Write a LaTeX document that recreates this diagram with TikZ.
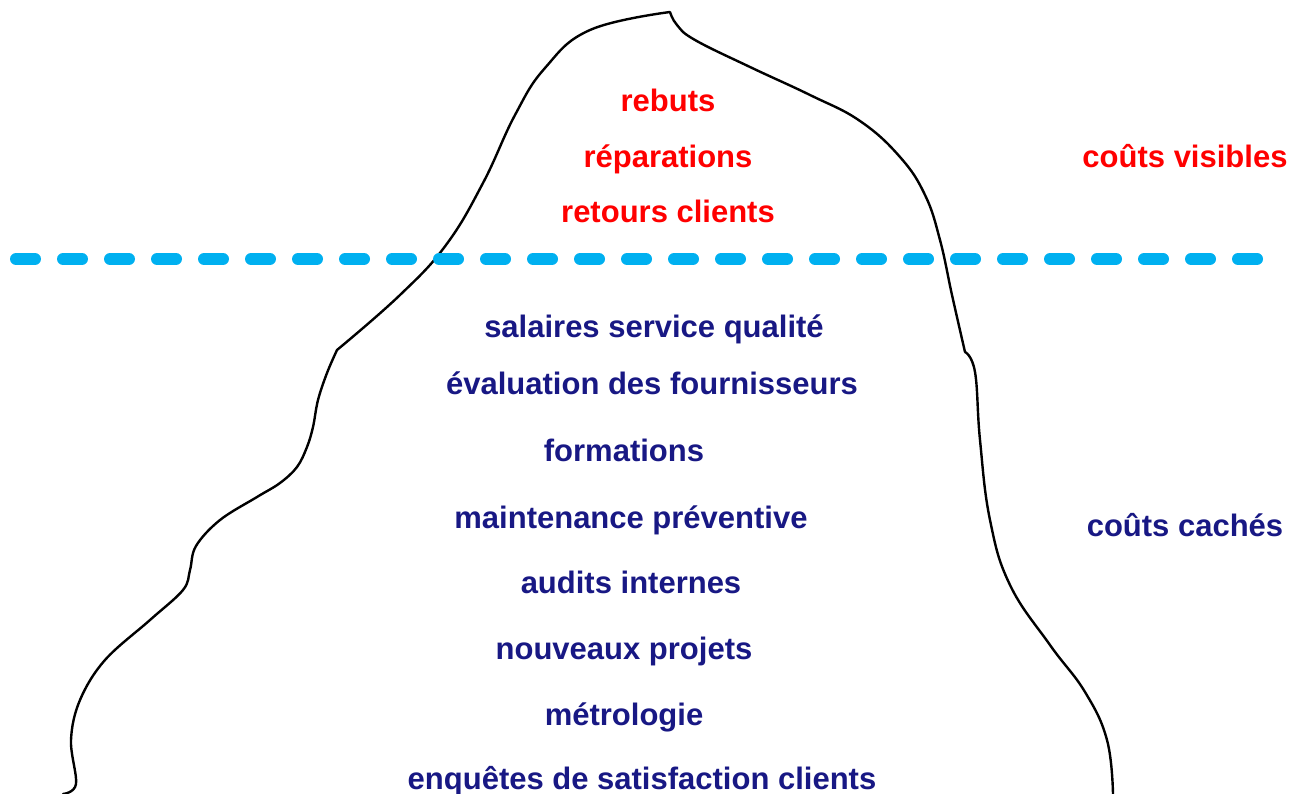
\documentclass[tikz,border=0pt]{standalone}
\usepackage{fontspec}
\setmainfont{Liberation Sans}
\definecolor{visred}{RGB}{255,0,0}
\definecolor{hidblue}{RGB}{24,24,132}
\definecolor{water}{RGB}{0,176,240}
\def\waterline{(16,259) -- (1257,259)}
\def\leftfoot{(63,794) (76,784) (71,740) (80,700) (105,660) (150,620) (183,590) (190,570) (196,546) (220,520) (257,497) (280,483) (297,467) (307,447) (313,427) (318,400) (327,373) (337,350)}
\def\leftflank{(337,350) (400,295) (446,245) (483,183) (515,115) (545,68) (590,30) (670,12)}
\def\rightflank{(670,12) (677,25) (695,40) (750,67) (810,95) (860,121) (900,157) (925,195) (940,240) (952,295) (965,352)}
\def\rightfoot{(965,352) (975,372) (980,440) (990,520) (1010,585) (1050,645) (1085,692) (1107,740) (1113,794)}
\tikzset{
	visible/.style={text=visred, anchor=base, inner sep=0pt, font=\fontsize{31}{36}\selectfont\bfseries},
	hidden/.style={text=hidblue, anchor=base, inner sep=0pt, font=\fontsize{31}{36}\selectfont\bfseries}
}
\begin{document}
\begin{tikzpicture}[x=1pt, y=-1pt]
					\useasboundingbox (0,0) rectangle (1302,794);
					
					%drawing outline of the iceberg
					\draw [line width=2.4pt, line cap=round, line join=round] plot [smooth, tension=0.6] coordinates {\leftfoot} plot [smooth, tension=0.7] coordinates {\leftflank} plot [smooth, tension=0.7] coordinates {\rightflank} plot [smooth, tension=0.7] coordinates {\rightfoot};
					
					%water surface
					\draw [water, line width=12pt, line cap=round, dash pattern=on 19pt off 28pt] \waterline;
					
					\node [visible] (rebuts) at (668,112) {rebuts};
					\node [visible] (reparations) at (668,168) {réparations};
					\node [visible] (retours) at (668,223) {retours clients};
					\node [visible] (visibles) at (1185,168) {coûts visibles};
					
					\node [hidden] (salaires) at (654,338) {salaires service qualité};
					\node [hidden] (evaluation) at (652,395) {évaluation des fournisseurs};
					\node [hidden] (formations) at (624,461) {formations};
					\node [hidden] (maintenance) at (631,528) {maintenance préventive};
					\node [hidden] (audits) at (631,593) {audits internes};
					\node [hidden] (projets) at (624,659) {nouveaux projets};
					\node [hidden] (metrologie) at (624,725) {métrologie};
					\node [hidden] (enquetes) at (642,789) {enquêtes de satisfaction clients};
					\node [hidden] (caches) at (1185,536) {coûts cachés};
				\end{tikzpicture}
\end{document}
